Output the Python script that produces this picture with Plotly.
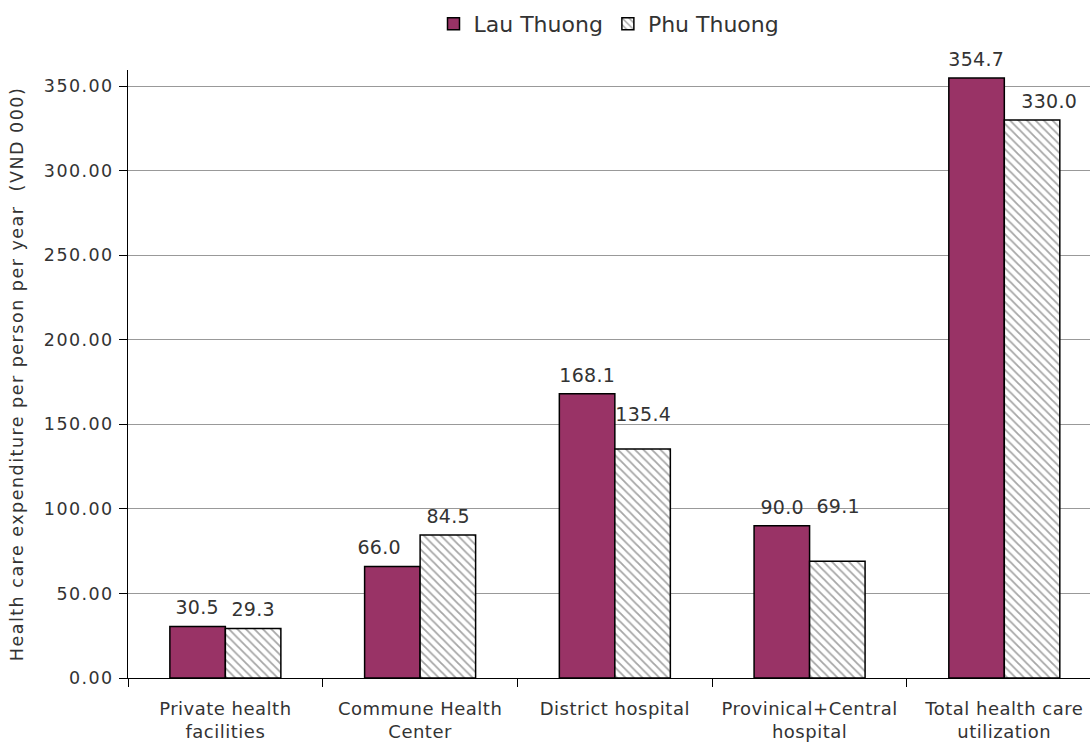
import plotly.graph_objects as go

categories = ["Private health<br>facilities", "Commune Health<br>Center", "District hospital",
              "Provinical+Central<br>hospital", "Total health care<br>utilization"]
lau_thuong = [30.5, 66.0, 168.1, 90.0, 354.7]
phu_thuong = [29.3, 84.5, 135.4, 69.1, 330.0]
y_ticks = [0, 50, 100, 150, 200, 250, 300, 350]

# label placement tweaks (pixels) as in the original chart
lau_label_dx = [0, -13, 0, 0, 0]
lau_label_dy = [0, 0, 0, 0, 0]
phu_label_dx = [0, 0, 0, 0, 17]
phu_label_dy = [0, 0, 16, 36, 0]

FONT = "DejaVu Sans"
TXT = "#333333"

fig = go.Figure()
fig.add_trace(go.Bar(
    name="Lau Thuong", x=categories, y=lau_thuong,
    marker=dict(color="#993366", line=dict(color="black", width=1.5)),
))
fig.add_trace(go.Bar(
    name="Phu Thuong", x=categories, y=phu_thuong,
    marker=dict(color="white", line=dict(color="black", width=1.5),
                pattern=dict(shape="\\", size=6, solidity=0.3, fgcolor="#4d4d4d", bgcolor="white")),
))

for vals, base_dx, dxs, dys in ((lau_thuong, -28, lau_label_dx, lau_label_dy),
                                (phu_thuong, 28, phu_label_dx, phu_label_dy)):
    for c, v, dx, dy in zip(categories, vals, dxs, dys):
        fig.add_annotation(x=c, y=v, xref="x", yref="y", text=f"{v:.1f}", showarrow=False,
                           xshift=base_dx + dx, yshift=6 + dy, yanchor="bottom",
                           font=dict(family=FONT, size=19, color=TXT))

fig.update_layout(
    width=1090, height=742,
    margin=dict(l=128, r=0, t=70, b=64),
    paper_bgcolor="white", plot_bgcolor="white",
    barmode="group", bargap=0.43, bargroupgap=0,
    font=dict(family=FONT, size=17, color=TXT),
    showlegend=True,
    legend=dict(orientation="h", x=0.5, xanchor="center", y=0.996, yanchor="top",
                yref="container", font=dict(family=FONT, size=22, color=TXT),
                itemwidth=30, traceorder="normal"),
    xaxis=dict(type="category", range=[-0.5, 4.44], showline=True, linecolor="black", linewidth=1,
               ticks="outside", tickson="boundaries", ticklen=8, tickcolor="black",
               ticklabelstandoff=14,
               showgrid=False, tickfont=dict(family=FONT, size=18, color=TXT), automargin=False),
    yaxis=dict(range=[0, 359.5], tickvals=y_ticks, tickformat=".2f", showline=True, linecolor="black",
               linewidth=1, ticks="outside", ticklen=8, tickcolor="black", ticklabelstandoff=2,
               showgrid=True, gridcolor="#999999", gridwidth=1, zeroline=False,
               tickfont=dict(family=FONT, size=17.5, color=TXT), automargin=False,
               title=dict(text="Health care expenditure per person per year  (VND 000)",
                          font=dict(family=FONT, size=17.5, color=TXT), standoff=24)),
)

css = (".xtick text{letter-spacing:0.5px}"
       ".ytick text{letter-spacing:1.4px}"
       ".ytitle{letter-spacing:1.5px}"
       ".annotation-text{letter-spacing:0.3px}")
post = ("var s=document.createElement('style');s.textContent='" + css + "';"
        "document.head.appendChild(s);")

fig.write_html("out.html", post_script=post)
